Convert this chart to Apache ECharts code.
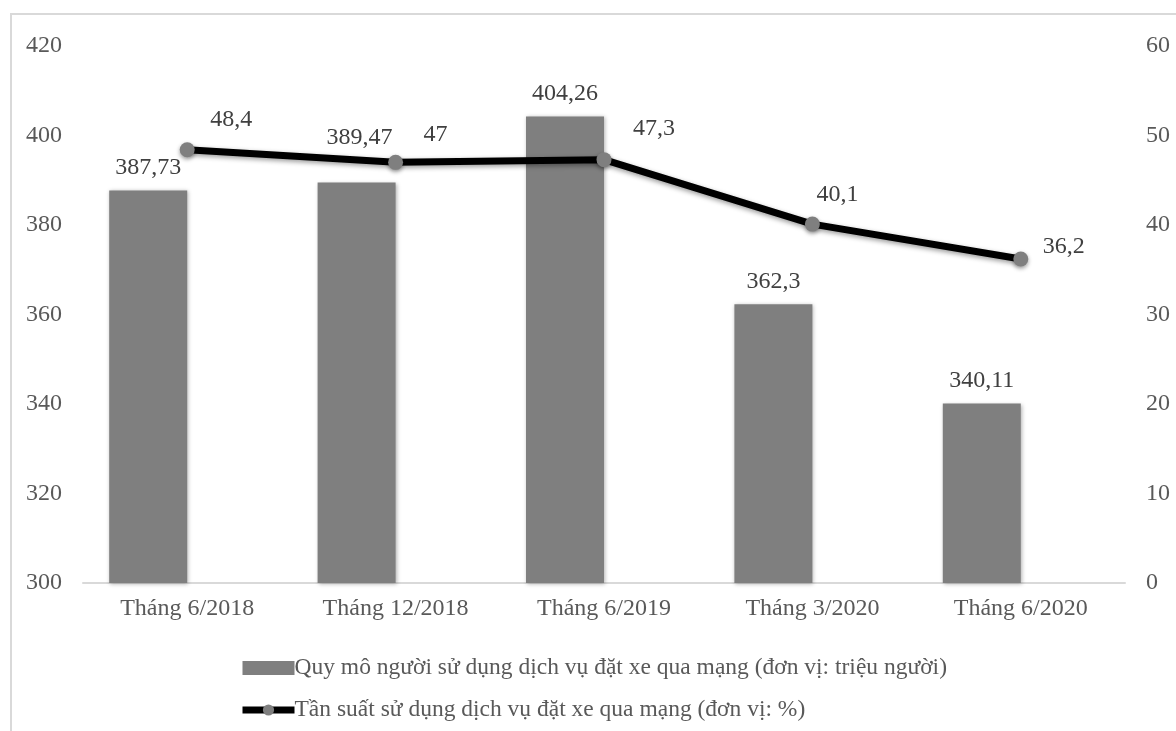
<!DOCTYPE html>
<html><head><meta charset="utf-8">
<script src="https://cdn.jsdelivr.net/npm/echarts@6/dist/echarts.min.js"></script>
<style>
html,body{margin:0;padding:0;background:#fff;overflow:hidden;}
#frame{position:absolute;left:10px;top:13px;width:1200px;height:760px;border:2px solid #d9d9d9;box-sizing:border-box;}
#c{position:absolute;left:0;top:0;width:1176px;height:731px;}
</style></head>
<body>
<div id="frame"></div>
<div id="c"></div>
<script>
const categories = ['Tháng 6/2018','Tháng 12/2018','Tháng 6/2019','Tháng 3/2020','Tháng 6/2020'];
const usersMillion = [387.73, 389.47, 404.26, 362.3, 340.11];
const frequencyPct = [48.4, 47, 47.3, 40.1, 36.2];
const barName = 'Quy mô người sử dụng dịch vụ đặt xe qua mạng (đơn vị: triệu người)';
const lineName = 'Tần suất sử dụng dịch vụ đặt xe qua mạng (đơn vị: %)';

// label placement tweaks (style only)
const lineLabelShift = [[44,-6],[40,-3],[50,-6],[25,-5],[43,12]];
const barLabelShift = [[0,0],[3,-22],[0,0],[0,0],[0,0]];

const FONT = "'Liberation Serif','Times New Roman',serif";
const fmt = v => String(v).replace('.', ',');

const chart = echarts.init(document.getElementById('c'));
chart.setOption({
  animation:false,
  textStyle:{fontFamily:FONT},
  grid:{left:83,right:51,top:46,bottom:148,containLabel:false},
  legend:{
    orient:'vertical', left:234, top:651, itemGap:18, itemWidth:52, itemHeight:14,
    textStyle:{fontFamily:FONT,fontSize:23.5,color:'#595959',padding:[0,0,0,-5]},
    data:[
      {name:barName,icon:'rect'},
      {name:lineName,lineStyle:{width:7,color:'#000'},itemStyle:{color:'#7f7f7f'}}
    ]
  },
  xAxis:{
    type:'category', data:categories,
    axisLine:{lineStyle:{color:'#d9d9d9',width:2}},
    axisTick:{show:false},
    axisLabel:{fontFamily:FONT,fontSize:24,color:'#595959',margin:14}
  },
  yAxis:[
    {type:'value',min:300,max:420,interval:20,splitLine:{show:false},axisLine:{show:false},axisTick:{show:false},
     axisLabel:{fontFamily:FONT,fontSize:24,color:'#595959',margin:21}},
    {type:'value',min:0,max:60,interval:10,splitLine:{show:false},axisLine:{show:false},axisTick:{show:false},
     axisLabel:{fontFamily:FONT,fontSize:24,color:'#595959',margin:21,align:'left'}}
  ],
  series:[
    {name:barName,type:'bar',barWidth:78,barGap:'0%',
     data:usersMillion.map((v,i)=>({value:v,label:{offset:barLabelShift[i]}})),
     itemStyle:{color:'#7f7f7f',shadowBlur:4,shadowColor:'rgba(0,0,0,0.3)',shadowOffsetX:1,shadowOffsetY:1},
     label:{show:true,position:'top',distance:11,fontFamily:FONT,fontSize:24,color:'#404040',formatter:p=>fmt(p.value)}},
    {name:'_spacer',type:'bar',data:[],barWidth:78,barGap:'0%'},
    {name:lineName,type:'line',yAxisIndex:1,
     data:frequencyPct.map((v,i)=>({value:v,label:{offset:lineLabelShift[i]}})),
     symbol:'circle',symbolSize:15,
     lineStyle:{color:'#000',width:7,shadowBlur:5,shadowColor:'rgba(0,0,0,0.4)',shadowOffsetY:2},
     itemStyle:{color:'#7f7f7f',borderWidth:0,shadowBlur:4,shadowColor:'rgba(0,0,0,0.4)',shadowOffsetY:2},
     label:{show:true,position:'top',distance:5,fontFamily:FONT,fontSize:24,color:'#404040',formatter:p=>fmt(p.value)}}
  ]
});
</script>
</body></html>
